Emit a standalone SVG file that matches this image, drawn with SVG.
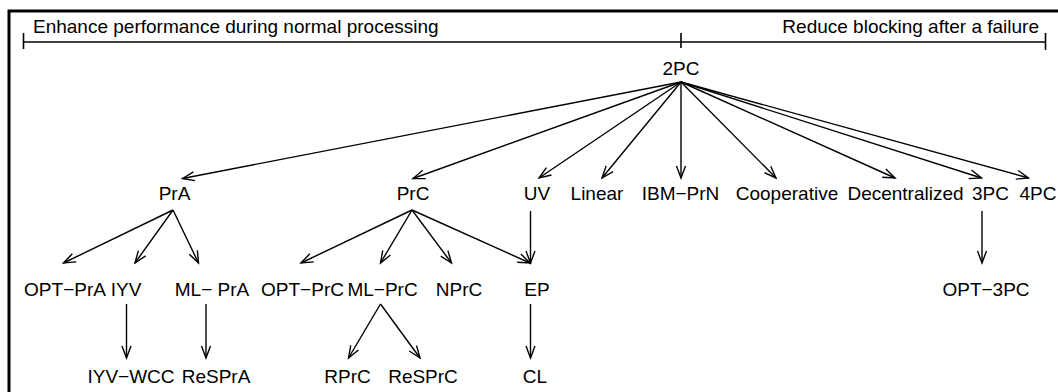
<svg xmlns="http://www.w3.org/2000/svg" width="1058" height="392" viewBox="0 0 1058 392">
<style>
text{font-family:"Liberation Sans",Arial,sans-serif;font-size:19px;fill:#000;text-anchor:middle}
.c line{stroke:#000;stroke-width:1.4;marker-end:url(#ah)}
.br{stroke:#000;stroke-width:1.6;fill:none}
</style>
<defs>
<marker id="ah" markerUnits="userSpaceOnUse" viewBox="-14 -7 16 14" markerWidth="16" markerHeight="14" refX="0" refY="0" orient="auto">
<path d="M-12,-4.5 L0,0 L-12,4.5" fill="none" stroke="#000" stroke-width="1.4"/>
</marker>
</defs>
<rect width="1058" height="392" fill="#fff"/>
<path d="M9,392 V11 H1058" fill="none" stroke="#000" stroke-width="3"/>
<g id="scale">
<path class="br" d="M23.5,42 H1045.5 M23.5,33 V49 M1045.5,33 V50 M681,33 V48"/>
<text x="33" y="33" style="text-anchor:start">Enhance performance during normal processing</text>
<text x="1039" y="33" style="text-anchor:end">Reduce blocking after a failure</text>
</g>
<g id="n2PC"><text x="681" y="75">2PC</text></g>
<g id="nPrA"><text x="174.5" y="200">PrA</text></g>
<g id="nPrC"><text x="413" y="200">PrC</text></g>
<g id="nUV"><text x="537" y="200">UV</text></g>
<g id="nLinear"><text x="597" y="200">Linear</text></g>
<g id="nIBM"><text x="680.5" y="200">IBM−PrN</text></g>
<g id="nCoop"><text x="787" y="200">Cooperative</text></g>
<g id="nDec"><text x="905.5" y="200">Decentralized</text></g>
<g id="n3PC"><text x="990.5" y="200">3PC</text></g>
<g id="n4PC"><text x="1038" y="200">4PC</text></g>
<g id="nOPTPrA"><text x="65" y="296">OPT−PrA</text></g>
<g id="nIYV"><text x="126" y="296">IYV</text></g>
<g id="nMLPrA"><text x="212" y="296">ML− PrA</text></g>
<g id="nOPTPrC"><text x="302.5" y="296">OPT−PrC</text></g>
<g id="nMLPrC"><text x="382.5" y="296">ML−PrC</text></g>
<g id="nNPrC"><text x="459" y="296">NPrC</text></g>
<g id="nEP"><text x="537" y="296">EP</text></g>
<g id="nOPT3PC"><text x="986" y="296">OPT−3PC</text></g>
<g id="nIYVWCC"><text x="131" y="383">IYV−WCC</text></g>
<g id="nReSPrA"><text x="216" y="383">ReSPrA</text></g>
<g id="nRPrC"><text x="347.5" y="383">RPrC</text></g>
<g id="nReSPrC"><text x="423" y="383">ReSPrC</text></g>
<g id="nCL"><text x="535" y="383">CL</text></g>
<g id="connectors" class="c">
<line x1="681" y1="82" x2="182.5" y2="178.5"/>
<line x1="681" y1="82" x2="413" y2="178.5"/>
<line x1="681" y1="82" x2="539" y2="178"/>
<line x1="681" y1="82" x2="602" y2="178"/>
<line x1="681" y1="82" x2="681" y2="178"/>
<line x1="681" y1="82" x2="776" y2="178"/>
<line x1="681" y1="82" x2="895" y2="178"/>
<line x1="681" y1="82" x2="981.5" y2="178"/>
<line x1="681" y1="82" x2="1028.5" y2="178"/>
<line x1="173" y1="210" x2="63.5" y2="263"/>
<line x1="173" y1="210" x2="135" y2="263"/>
<line x1="173" y1="210" x2="198.5" y2="263"/>
<line x1="412" y1="210" x2="301" y2="263"/>
<line x1="412" y1="210" x2="380.5" y2="263"/>
<line x1="412" y1="210" x2="451.5" y2="263"/>
<line x1="412" y1="210" x2="530" y2="263"/>
<line x1="530.5" y1="211" x2="530.5" y2="263"/>
<line x1="982" y1="211" x2="982" y2="263"/>
<line x1="126.5" y1="304" x2="126.5" y2="358"/>
<line x1="206" y1="304" x2="206" y2="358"/>
<line x1="380.5" y1="304" x2="348.5" y2="358"/>
<line x1="380.5" y1="304" x2="420" y2="358"/>
<line x1="530.5" y1="304" x2="530.5" y2="358"/>
</g>
</svg>
